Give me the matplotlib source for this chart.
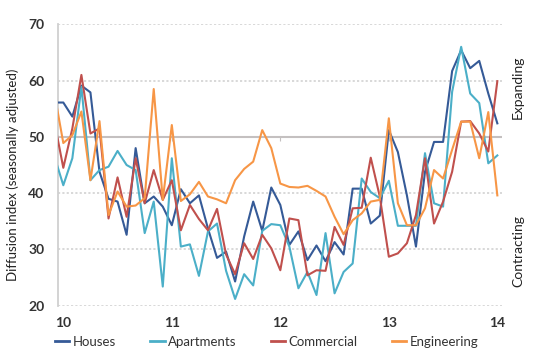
import matplotlib
matplotlib.use("Agg")
import matplotlib.pyplot as plt
import numpy as np

# Monthly observations, Dec 2009 (first, partly off-axis) to Jan 2014
houses = [56.1, 56.1, 53.6, 59.1, 57.9, 43.8, 39.0, 38.5, 32.6, 48.0, 38.2, 39.4, 37.6,
          34.3, 40.7, 38.2, 39.6, 33.7, 28.5, 29.6, 24.3, 32.3, 38.5, 33.3, 41.0,
          37.9, 30.8, 33.2, 28.1, 30.7, 27.9, 31.3, 29.1, 40.8, 40.8, 34.6, 36.0,
          51.2, 47.3, 39.6, 30.5, 43.8, 49.1, 49.1, 61.7, 65.4, 62.2, 63.5, 57.7, 52.4]
apartments = [46.6, 41.4, 46.2, 58.9, 42.3, 44.1, 44.7, 47.5, 45.0, 44.1, 32.9, 38.5, 23.4,
              46.2, 30.5, 30.9, 25.3, 33.2, 34.6, 26.2, 21.2, 25.6, 23.6, 33.3, 34.5,
              34.3, 30.5, 23.1, 26.0, 21.9, 32.9, 22.2, 26.0, 27.5, 42.6, 40.2, 39.1,
              42.2, 34.2, 34.2, 34.2, 47.1, 38.2, 37.6, 58.0, 66.0, 57.7, 56.0, 45.3, 46.7]
commercial = [52.8, 44.5, 51.5, 61.0, 50.6, 51.5, 35.5, 42.8, 35.8, 46.2, 38.2, 44.1, 38.8,
              42.3, 33.4, 37.9, 35.4, 33.4, 37.2, 29.1, 25.6, 31.1, 28.3, 32.6, 30.2,
              26.3, 35.5, 35.2, 25.4, 26.3, 26.2, 34.0, 30.8, 37.3, 37.4, 46.3, 39.4,
              28.7, 29.3, 31.1, 36.1, 46.2, 34.6, 38.5, 43.8, 52.7, 52.8, 50.6, 47.4, 59.9]
engineering = [57.9, 48.9, 50.3, 54.5, 42.3, 52.8, 36.1, 40.3, 37.6, 37.8, 39.1, 58.5, 38.8,
               52.1, 38.6, 39.8, 42.0, 39.4, 38.9, 38.2, 42.3, 44.3, 45.6, 51.2, 48.0,
               41.7, 41.1, 41.0, 41.3, 40.4, 39.4, 35.8, 32.7, 35.2, 36.4, 38.5, 38.8,
               53.3, 38.2, 34.3, 34.3, 37.3, 44.1, 42.6, 47.7, 52.7, 52.7, 46.2, 54.4, 39.6]

series_names = ["Houses", "Apartments", "Commercial", "Engineering"]
series_colors = ["#355A97", "#4BAFC8", "#C0504D", "#F79646"]
year_ticks = [10, 11, 12, 13, 14]
y_ticks = [20, 30, 40, 50, 60, 70]

start = 10 - 1 / 12
x = start + np.arange(len(houses)) / 12

plt.rcParams['font.family'] = ['Lato', 'DejaVu Sans']

fig = plt.figure(figsize=(5.44, 3.62), dpi=100)
ax = fig.add_axes([0.1072, 0.1555, 0.815, 0.7774])

# gridlines
for yv in [20, 30, 40, 60, 70]:
    ax.axhline(yv, color="#D6D6D6", lw=1.3, ls=(0, (1.2, 1.2)), zorder=0)
ax.axhline(50, color="#C4C0C0", lw=1.5, zorder=1)

for vals, name, col in zip([houses, apartments, commercial, engineering],
                           series_names, series_colors):
    ax.plot(x, vals, color=col, lw=1.5, label=name, zorder=3)

ax.set_xlim(9.954, 14.04)
ax.set_ylim(20, 70)
ax.set_xticks(year_ticks)
ax.set_xticklabels([str(t) for t in year_ticks])
ax.set_yticks(y_ticks)

for s in ["top", "right", "bottom"]:
    ax.spines[s].set_visible(False)
ax.spines["left"].set_color("#D0D0D0")
ax.spines["left"].set_linewidth(1.3)

ax.tick_params(axis="x", length=0, pad=8, labelsize=10, labelcolor="#333333")
ax.tick_params(axis="y", length=0, pad=10, labelsize=10, labelcolor="#333333")
for lab in ax.get_xticklabels() + ax.get_yticklabels():
    lab.set_fontweight("bold")

# small tick marks on the 50 line
sec = ax.secondary_xaxis(0.6)
sec.set_xticks(year_ticks[1:-1])
sec.tick_params(axis="x", length=3, direction="in", color="#C4C0C0", labelbottom=False, labeltop=False)
sec.spines["top"].set_visible(False)
sec.spines["bottom"].set_visible(False)

ax.set_ylabel("Diffusion index (seasonally adjusted)", fontsize=9.5, color="#222222")
ax.yaxis.set_label_coords(-0.089, 0.464)

ax.text(1.037, 0.775, "Expanding", transform=ax.transAxes, rotation=90,
        ha="center", va="center", fontsize=10, color="#222222")
ax.text(1.037, 0.195, "Contracting", transform=ax.transAxes, rotation=90,
        ha="center", va="center", fontsize=10, color="#222222")

leg = fig.legend(loc="center", bbox_to_anchor=(0.49, 0.055), ncol=4, frameon=False,
                 fontsize=9.5, handlelength=1.1, handletextpad=0.25, columnspacing=2.6,
                 labelcolor="#333333")
for line in leg.get_lines():
    line.set_linewidth(2)

fig.savefig("out.png", dpi=100)
